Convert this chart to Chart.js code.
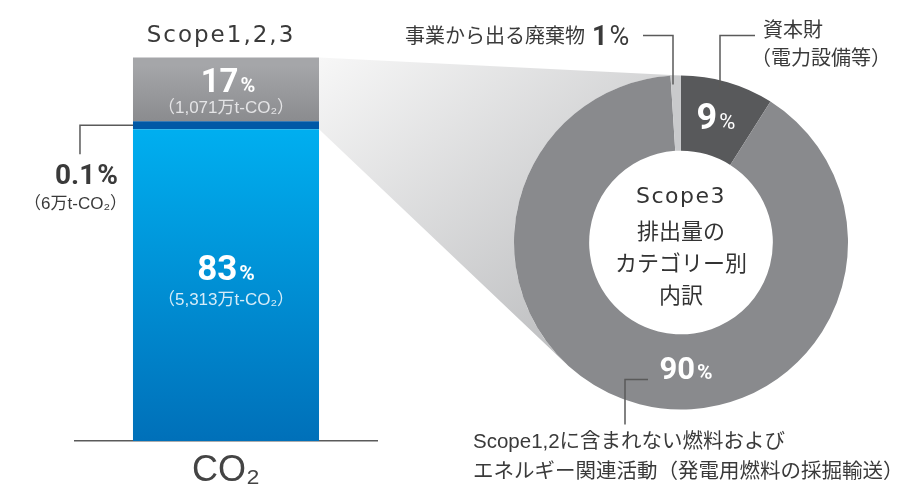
<!DOCTYPE html>
<html lang="ja">
<head>
<meta charset="utf-8">
<title>CO2 Scope1,2,3</title>
<script src="https://cdn.jsdelivr.net/npm/chart.js@4.4.1/dist/chart.umd.min.js"></script>
<style>
  html, body { margin: 0; padding: 0; background: #fff; }
  .wrap { position: relative; width: 906px; height: 486px; }
  .wrap canvas { position: absolute; left: 0; top: 0; }
</style>
</head>
<body>
<div class="wrap">
  <canvas id="barChart" width="906" height="486"></canvas>
  <canvas id="ringChart" width="906" height="486"></canvas>
</div>
<script>
"use strict";

// left bar: CO2 split (Scope1,2 / small part / Scope3)
const barCategories = ["CO₂"];
const barTitle = "Scope1,2,3";
const co2Shares = [83, 0.1, 17];
const co2Amounts = ["5,313", "6", "1,071"];

// right ring: Scope3 breakdown
const scope3Title = ["Scope3", "排出量の", "カテゴリー別", "内訳"];
const scope3Shares = [9, 90, 1];
const scope3Labels = [
  ["資本財", "（電力設備等）"],
  ["Scope1,2に含まれない燃料および", "エネルギー関連活動（発電用燃料の採掘輸送）"],
  ["事業から出る廃棄物"],
];

const textColor = "#3a3a3a";
const lineColor = "#5a5a5a";
const jpFont = "'Noto Sans CJK JP'";
const mixFont = "'Liberation Sans', 'Noto Sans CJK JP'";
const numFont = "Roboto";
const latinFont = "'Liberation Sans'";
const titleFont = "'DejaVu Sans'";

const verticalGradient = (stops) => (context) => {
  const { chart } = context;
  const area = chart.chartArea;
  if (!area) return stops[0][1];
  const g = chart.ctx.createLinearGradient(0, area.bottom, 0, area.top);
  stops.forEach(([p, c]) => g.addColorStop(p, c));
  return g;
};

const barFills = [
  verticalGradient([[0, "#0070b9"], [0.82, "#00aeef"], [1, "#00aeef"]]),
  "#0058a6",
  verticalGradient([[0, "#808184"], [0.83, "#87888b"], [1, "#a5a6a9"]]),
];

const drawPercent = (ctx, value, x, y, size, pctSize, color, align = "center", pctWeight = "bold") => {
  ctx.save();
  ctx.fillStyle = color;
  ctx.textBaseline = "alphabetic";
  ctx.textAlign = "left";
  const num = String(value);
  ctx.font = `bold ${size}px ${numFont}`;
  const w1 = ctx.measureText(num).width;
  ctx.font = `${pctWeight} ${pctSize}px ${numFont}`;
  const w2 = ctx.measureText("%").width;
  const total = w1 + 2 + w2;
  const start = align === "center" ? x - total / 2 : align === "right" ? x - total : x;
  ctx.font = `bold ${size}px ${numFont}`;
  ctx.fillText(num, start, y);
  ctx.font = `${pctWeight} ${pctSize}px ${numFont}`;
  ctx.fillText("%", start + w1 + 2, y);
  ctx.restore();
};

const drawText = (ctx, text, x, y, font, color, align = "left", spacing = "0px", baseline = "middle") => {
  ctx.save();
  ctx.font = font;
  ctx.fillStyle = color;
  ctx.textAlign = align;
  ctx.textBaseline = baseline;
  ctx.letterSpacing = spacing;
  ctx.fillText(text, x, y);
  ctx.restore();
};

const polyline = (ctx, points) => {
  ctx.save();
  ctx.strokeStyle = lineColor;
  ctx.lineWidth = 1.5;
  ctx.beginPath();
  points.forEach(([x, y], i) => (i ? ctx.lineTo(x, y) : ctx.moveTo(x, y)));
  ctx.stroke();
  ctx.restore();
};

const barLabelsPlugin = {
  id: "barLabels",
  afterDatasetsDraw(chart) {
    const { ctx } = chart;
    const blue = chart.getDatasetMeta(0).data[0];
    const band = chart.getDatasetMeta(1).data[0];
    const gray = chart.getDatasetMeta(2).data[0];
    const cx = gray.x;
    const left = gray.x - gray.width / 2;

    drawText(ctx, barTitle, cx - 5, gray.y - 15, `23px ${titleFont}`, textColor, "center", "2px", "alphabetic");

    drawPercent(ctx, co2Shares[2], cx + 2, gray.y + 35, 33, 20, "#ffffff");
    drawText(ctx, `（${co2Amounts[2]}万t-CO₂）`, cx, gray.y + 51, `17px ${mixFont}`, "#e4e4e6", "center");

    drawPercent(ctx, co2Shares[0], cx, blue.base - 161, 35, 21, "#ffffff");
    drawText(ctx, `（${co2Amounts[0]}万t-CO₂）`, cx, blue.base - 141, `17px ${mixFont}`, "#d6ecf8", "center");

    const mid = (band.y + band.base) / 2;
    polyline(ctx, [[left, mid], [left - 53, mid], [left - 53, mid + 29]]);
    drawPercent(ctx, co2Shares[1], left - 15, mid + 59, 28, 28, textColor, "right");
    drawText(ctx, `（${co2Amounts[1]}万t-CO₂）`, left - 6, mid + 79, `17px ${mixFont}`, textColor, "right");
  },
};

const barChart = new Chart(document.getElementById("barChart"), {
  type: "bar",
  data: {
    labels: barCategories,
    datasets: co2Shares.map((v, i) => ({
      data: [v],
      backgroundColor: barFills[i],
      borderWidth: 0,
      minBarLength: i === 1 ? 8 : 0,
      barPercentage: 0.616,
      categoryPercentage: 1,
      clip: false,
    })),
  },
  options: {
    responsive: false,
    animation: false,
    events: [],
    // the thin band is widened to 8px, which pushes the top segment up by that much
    layout: { padding: { left: 75, right: 529, top: 65, bottom: 0 } },
    scales: {
      x: {
        stacked: true,
        afterFit: (scale) => {
          scale.height = 45;
        },
        grid: { display: false, drawTicks: false, tickLength: 0 },
        border: { display: true, color: lineColor, width: 1.5 },
        ticks: {
          color: "#444444",
          padding: 12,
          font: { family: latinFont, size: 36, lineHeight: 1 },
        },
      },
      y: {
        stacked: true,
        display: false,
        min: 0,
        max: co2Shares.reduce((a, b) => a + b, 0),
      },
    },
    plugins: { legend: { display: false }, tooltip: { enabled: false } },
  },
  plugins: [barLabelsPlugin],
});

const ringDecorPlugin = {
  id: "ringDecor",
  beforeDatasetsDraw(chart) {
    // grey "zoom" band from the Scope3 part of the bar to the ring
    const { ctx } = chart;
    const arc = chart.getDatasetMeta(0).data[0];
    const gray = barChart.getDatasetMeta(2).data[0];
    const band = barChart.getDatasetMeta(1).data[0];
    const bx = gray.x + gray.width / 2;
    const topY = gray.y;
    const botY = band.base;
    const cx = arc.x, cy = arc.y, r = arc.outerRadius;
    const d = Math.hypot(cx - bx, cy - botY);
    const phi = Math.atan2(cy - botY, cx - bx) + Math.asin(r / d);
    const len = Math.sqrt(d * d - r * r);
    const tx = bx + len * Math.cos(phi);
    const ty = botY + len * Math.sin(phi);
    const g = ctx.createLinearGradient(bx, topY, tx, ty);
    g.addColorStop(0, "#f7f7f7");
    g.addColorStop(1, "#bcbdbf");
    ctx.save();
    ctx.fillStyle = g;
    ctx.beginPath();
    ctx.moveTo(bx, topY);
    ctx.lineTo(cx, cy - r);
    ctx.arc(cx, cy, r, -Math.PI / 2, Math.atan2(ty - cy, tx - cx), true);
    ctx.lineTo(bx, botY);
    ctx.closePath();
    ctx.fill();
    ctx.restore();
  },
  afterDatasetsDraw(chart) {
    const { ctx } = chart;
    const arc = chart.getDatasetMeta(0).data[0];
    const cx = arc.x, cy = arc.y, r = arc.outerRadius;

    // centre title
    drawText(ctx, scope3Title[0], cx, cy - 45, `22px ${titleFont}`, "#333333", "center", "1.5px");
    scope3Title.slice(1).forEach((t, i) => {
      drawText(ctx, t, cx, cy - 12 + i * 32, `22px ${jpFont}`, "#333333", "center");
    });

    // slice values
    drawPercent(ctx, scope3Shares[0], cx + 35, cy - 114, 36, 22, "#ffffff", "center", "normal");
    drawPercent(ctx, scope3Shares[1], cx + 5, cy + 136, 31, 21, "#ffffff", "center");

    // 1%
    polyline(ctx, [[cx - 38, cy - r - 40], [cx - 8, cy - r - 40], [cx - 8, cy - r + 9]]);
    drawText(ctx, scope3Labels[2][0], cx - 96, cy - r - 40, `20px ${jpFont}`, textColor, "right");
    ctx.save();
    ctx.fillStyle = textColor;
    ctx.textBaseline = "alphabetic";
    ctx.font = `bold 27px ${numFont}`;
    ctx.fillText(String(scope3Shares[2]), cx - 89, cy - r - 31);
    const w = ctx.measureText(String(scope3Shares[2])).width;
    ctx.font = `27px ${numFont}`;
    ctx.fillText("%", cx - 89 + w + 2, cy - r - 31);
    ctx.restore();

    // 9%
    polyline(ctx, [[cx + 74, cy - r - 40], [cx + 39, cy - r - 40], [cx + 39, cy - r + 13]]);
    drawText(ctx, scope3Labels[0][0], cx + 82, cy - r - 46, `20px ${jpFont}`, textColor);
    drawText(ctx, scope3Labels[0][1], cx + 70, cy - r - 18, `20px ${jpFont}`, textColor);

    // 90%
    polyline(ctx, [[cx - 33, cy + 137], [cx - 56, cy + 137], [cx - 56, cy + 182]]);
    drawText(ctx, scope3Labels[1][0], cx - 208, cy + 200, `20.5px ${mixFont}`, textColor);
    drawText(ctx, scope3Labels[1][1], cx - 208, cy + 228, `20.5px ${jpFont}`, textColor);
  },
};

const ringChart = new Chart(document.getElementById("ringChart"), {
  type: "doughnut",
  data: {
    labels: scope3Labels.map((l) => l.join("")),
    datasets: [
      {
        data: scope3Shares,
        backgroundColor: ["#58595b", "#898a8d", "#c9cacc"],
        borderWidth: 0,
        hoverOffset: 0,
      },
    ],
  },
  options: {
    responsive: false,
    animation: false,
    events: [],
    cutout: "55%",
    layout: { padding: { left: 514, right: 58, top: 75, bottom: 76 } },
    plugins: { legend: { display: false }, tooltip: { enabled: false } },
  },
  plugins: [ringDecorPlugin],
});
</script>
</body>
</html>
